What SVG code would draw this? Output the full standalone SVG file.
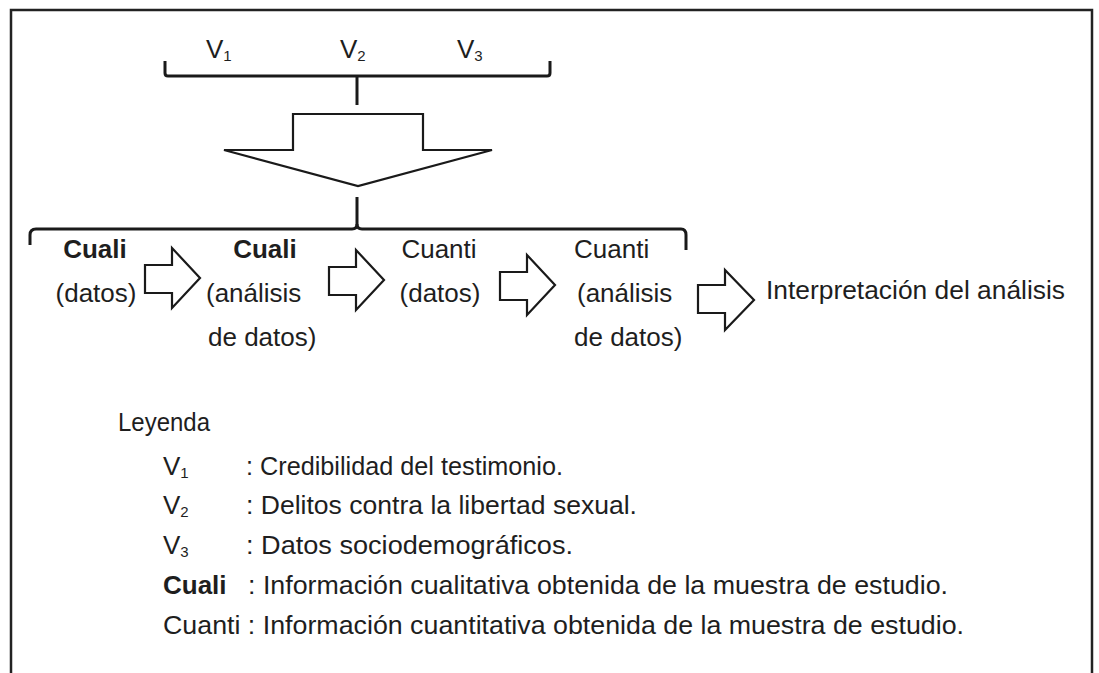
<svg xmlns="http://www.w3.org/2000/svg" width="1099" height="673" viewBox="0 0 1099 673">
<style>
text{font-family:"Liberation Sans",Arial,sans-serif;font-size:26px;fill:#1e1e1e}
.b{font-weight:bold}
.sub{font-size:15px}
.ln{fill:none;stroke:#1a1a1a;stroke-width:3;stroke-linejoin:round}
.ar{fill:#fff;stroke:#1a1a1a;stroke-width:2.2;stroke-linejoin:miter}
</style>
<rect width="1099" height="673" fill="#fff"/>
<path d="M11,690 V10 H1092 V690" fill="none" stroke="#222" stroke-width="2.5"/>

<g id="variables">
<text x="206" y="58">V<tspan class="sub" dy="3">1</tspan></text>
<text x="340" y="58">V<tspan class="sub" dy="3">2</tspan></text>
<text x="457" y="58">V<tspan class="sub" dy="3">3</tspan></text>
</g>

<g id="connectors">
<path class="ln" d="M165,61 V73 Q165,76 168,76 H547 Q550,76 550,73 V61"/>
<path class="ln" d="M357,76 V105"/>
<polygon class="ar" points="293,114 423,114 423,150 492,150 358,186 224,150 293,150"/>
<path class="ln" d="M357,197 V224 Q357,229 352,229 H36 Q30,229 30,235 V245"/>
<path class="ln" d="M357,224 Q357,229 362,229 H681 Q686,229 686,235 V250"/>
<polygon class="ar" points="145,265 172,265 172,248 200,278 172,308 172,293 145,293"/>
<polygon class="ar" points="329,267 356,267 356,250 384,280 356,310 356,295 329,295"/>
<polygon class="ar" points="500,272 527,272 527,255 555,285 527,315 527,300 500,300"/>
<polygon class="ar" points="698,285 725,285 725,270 754,300 725,330 725,313 698,313"/>
</g>

<g id="n1">
<text class="b" x="95" y="258" text-anchor="middle">Cuali</text>
<text x="96" y="302" text-anchor="middle">(datos)</text>
</g>
<g id="n2">
<text class="b" x="265" y="258" text-anchor="middle">Cuali</text>
<text x="206" y="302">(análisis</text>
<text x="208" y="346">de datos)</text>
</g>
<g id="n3">
<text x="439" y="258" text-anchor="middle">Cuanti</text>
<text x="440" y="302" text-anchor="middle">(datos)</text>
</g>
<g id="n4">
<text x="574" y="258">Cuanti</text>
<text x="577" y="302">(análisis</text>
<text x="574" y="346">de datos)</text>
</g>
<g id="n5">
<text x="766" y="299" textLength="299" lengthAdjust="spacingAndGlyphs">Interpretación del análisis</text>
</g>

<g id="legend">
<text x="118" y="431" textLength="92" lengthAdjust="spacingAndGlyphs">Leyenda</text>
<text x="163" y="475">V<tspan class="sub" dy="3">1</tspan></text>
<text x="246" y="475" textLength="317" lengthAdjust="spacingAndGlyphs">: Credibilidad del testimonio.</text>
<text x="163" y="514">V<tspan class="sub" dy="3">2</tspan></text>
<text x="246" y="514" textLength="391" lengthAdjust="spacingAndGlyphs">: Delitos contra la libertad sexual.</text>
<text x="163" y="554">V<tspan class="sub" dy="3">3</tspan></text>
<text x="246" y="554" textLength="327" lengthAdjust="spacingAndGlyphs">: Datos sociodemográficos.</text>
<text class="b" x="163" y="594">Cuali</text>
<text x="248" y="594" textLength="700" lengthAdjust="spacingAndGlyphs">: Información cualitativa obtenida de la muestra de estudio.</text>
<text x="163" y="634" textLength="801" lengthAdjust="spacingAndGlyphs">Cuanti : Información cuantitativa obtenida de la muestra de estudio.</text>
</g>
</svg>
